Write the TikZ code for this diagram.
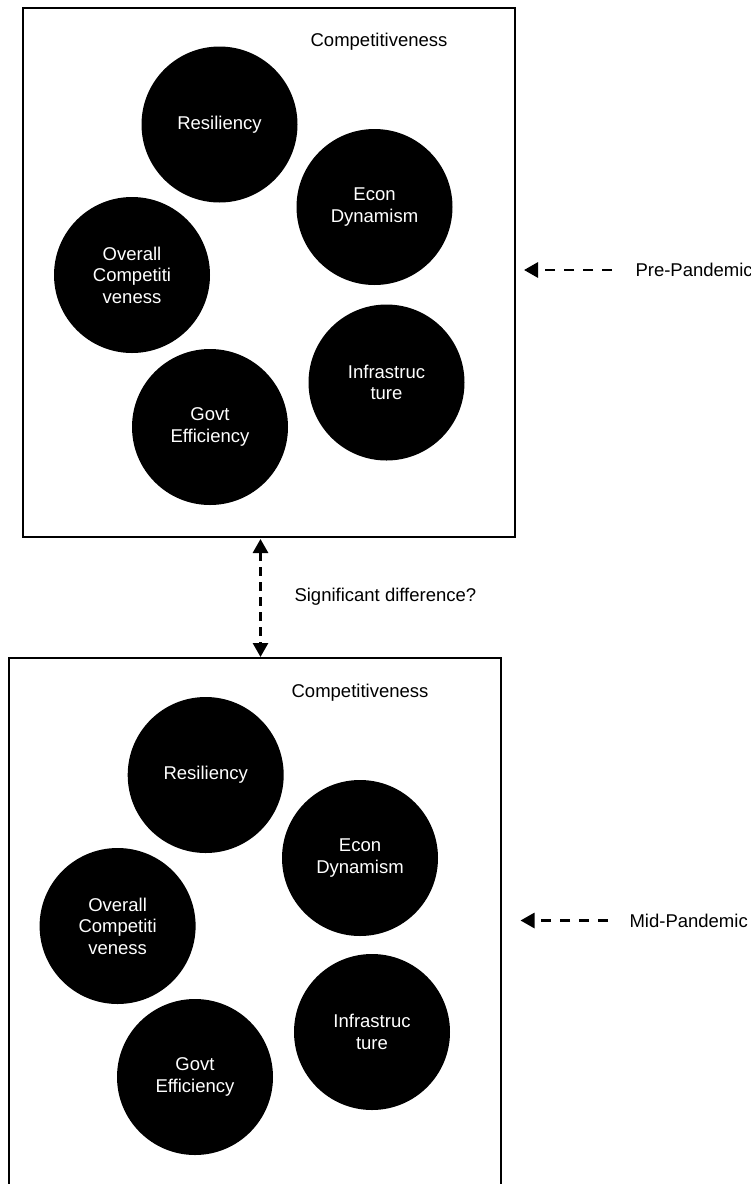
\documentclass[tikz,border=0pt]{standalone}
\usepackage{fontspec}
\setmainfont{Liberation Sans}
\usetikzlibrary{arrows.meta}
\begin{document}
\begin{tikzpicture}[x=1pt,y=-1pt,
  every node/.style={font=\fontsize{18.5}{21.5}\selectfont},
  frame/.style={line width=2pt,draw=black},
  ball/.style={circle,fill=black,text=white,minimum size=156pt,inner sep=0pt,align=center},
  dasharrow/.style={line width=2.8pt,dash pattern=on 10pt off 9pt,-{Triangle[length=14pt,width=15pt]}},
  dasharrows/.style={line width=2.8pt,dash pattern=on 9pt off 6pt,{Triangle[length=14pt,width=15pt]}-{Triangle[length=14pt,width=15pt]}}]
\clip (0,0) rectangle (751,1184);
% top panel
\draw[frame] (22.5,8) rectangle (515,537);
\node (ctitleA) at (379,42) {Competitiveness};
\node[ball] (resA) at (219.5,124.5) {Resiliency};
\node[ball] (econA) at (374.5,207) {Econ\\Dynamism};
\node[ball] (overA) at (132,275) {Overall\\Competiti\\veness};
\node[ball] (infraA) at (386.5,382.5) {Infrastruc\\ture};
\node[ball] (govA) at (210,427) {Govt\\Efficiency};
% bottom panel
\draw[frame] (8.6,1200) -- (8.6,658) -- (500.5,658) -- (500.5,1200);
\node (ctitleB) at (360,692.5) {Competitiveness};
\node[ball] (resB) at (205.7,775) {Resiliency};
\node[ball] (econB) at (360,858) {Econ\\Dynamism};
\node[ball] (overB) at (117.6,926) {Overall\\Competiti\\veness};
\node[ball] (infraB) at (372,1032) {Infrastruc\\ture};
\node[ball] (govB) at (195,1077) {Govt\\Efficiency};
% labels and arrows
\node[anchor=west] (pre) at (632,270) {Pre-Pandemic};
\node[anchor=west] (mid) at (626,920.5) {Mid-Pandemic};
\node[anchor=west] (sig) at (291,597) {Significant difference?};
\coordinate (preTail) at (612,270);
\coordinate (preTip) at (524,270);
\coordinate (midTail) at (608,920.5);
\coordinate (midTip) at (520.5,920.5);
\coordinate (sigTop) at (260.5,539);
\coordinate (sigBot) at (260.5,657);
\draw[dasharrow] (preTail) -- (preTip);
\draw[dasharrow] (midTail) -- (midTip);
\draw[dasharrows] (sigTop) -- (sigBot);
\end{tikzpicture}
\end{document}
